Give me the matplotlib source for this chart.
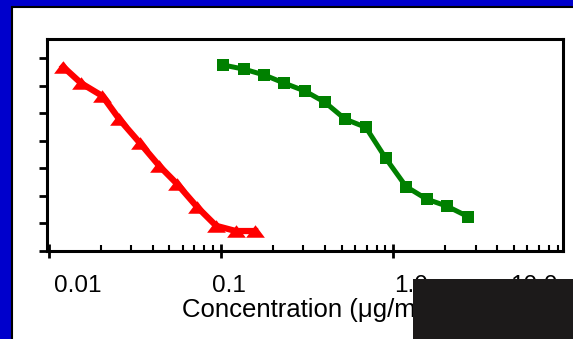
import matplotlib.pyplot as plt
from matplotlib.patches import Rectangle
from matplotlib.ticker import LogLocator, NullFormatter

# figure size in pixels
W, H = 573, 339

# red series (triangles)
red_x = [0.0121, 0.0154, 0.0205, 0.0257, 0.0339, 0.0437, 0.0557, 0.0723, 0.0936, 0.1217, 0.1575]
red_y = [67.0, 61.0, 56.3, 47.8, 39.1, 30.9, 24.2, 16.0, 9.0, 7.1, 7.1]

# green series (squares)
green_x = [0.1031, 0.136, 0.1777, 0.233, 0.3073, 0.4014, 0.5245, 0.6917, 0.9035, 1.185, 1.563, 2.04, 2.72]
green_y = [67.6, 66.1, 64.0, 61.0, 58.1, 54.0, 47.9, 44.9, 33.6, 23.3, 18.7, 16.2, 12.3]

tick_labels = ["0.01", "0.1", "1.0", "10.0"]
label_px = [77.5, 229.3, 411.5, 533.5]   # where the labels sit (pixels)
xlabel = "Concentration (\u03bcg/ml)"

plt.rcParams["font.family"] = ["Liberation Sans", "DejaVu Sans"]


def fx(x):
    return x / W


def fy(y):
    return 1 - y / H


fig = plt.figure(figsize=(W / 100, H / 100), dpi=100, facecolor="#0000cc")

# white panel with black frame on blue background
fig.patches.append(Rectangle((fx(12.3), -0.1), 1.2, fy(6.7) + 0.1, transform=fig.transFigure,
                             facecolor="white", edgecolor="black", linewidth=1.5, zorder=-1))

ax = fig.add_axes([fx(46.5), fy(250.5), fx(563) - fx(46.5), fy(39) - fy(250.5)])
ax.set_facecolor("white")

tri = [(0, 1), (-1.5, -1), (1.5, -1), (0, 1)]
ax.plot(red_x, red_y, color="#ff0000", lw=4.5, marker=tri, ms=13.5, mew=0)
ax.plot(green_x, green_y, color="#008000", lw=3.6, marker="s", ms=9, mew=0)

ax.set_xscale("log")
ax.set_xlim(0.0097, 9.65)
ax.set_ylim(0, 77.1)
ax.set_yticks(range(0, 80, 10))
ax.xaxis.set_minor_locator(LogLocator(base=10, subs=range(2, 10)))
ax.xaxis.set_minor_formatter(NullFormatter())

for s in ax.spines.values():
    s.set_linewidth(2.2)
ax.tick_params(axis="x", which="major", direction="inout", length=10, width=2, labelbottom=False)
ax.tick_params(axis="x", which="minor", direction="in", length=4, width=1.5)
ax.tick_params(axis="y", which="major", direction="out", length=6, width=2, labelleft=False)

for lab, p in zip(tick_labels, label_px):
    fig.text(fx(p), fy(292), lab, ha="center", va="baseline", fontsize=17.5)
fig.text(fx(181.7), fy(317), xlabel, ha="left", va="baseline", fontsize=18.5)

# dark box over the lower right corner
fig.patches.append(Rectangle((fx(413), -0.1), 0.5, fy(279) + 0.1, transform=fig.transFigure,
                             facecolor="#1c1a1a", edgecolor="none", zorder=10))

fig.savefig("out.png", dpi=100, facecolor=fig.get_facecolor())
